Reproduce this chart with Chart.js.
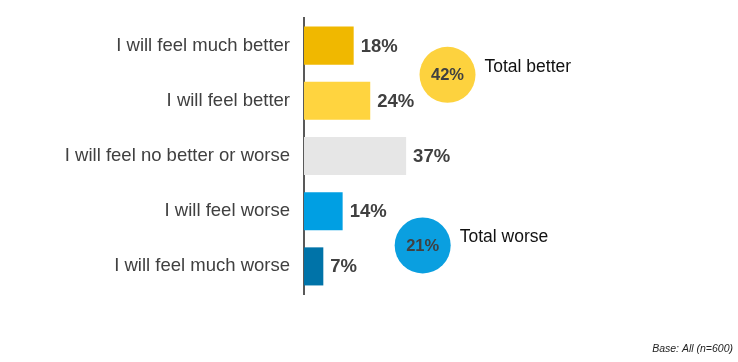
<!DOCTYPE html>
<html>
<head>
<meta charset="utf-8">
<script src="https://cdn.jsdelivr.net/npm/chart.js@4"></script>
<style>
  html, body { margin: 0; padding: 0; background: #fff; }
  #wrap { position: relative; width: 738px; height: 362px; }
</style>
</head>
<body>
<div id="wrap"><canvas id="chart"></canvas></div>
<script>
// data
const categories = ['I will feel much better', 'I will feel better', 'I will feel no better or worse', 'I will feel worse', 'I will feel much worse'];
const values = [18, 24, 37, 14, 7];
const barColors = ['#F0B800', '#FFD43F', '#E6E6E6', '#009FE3', '#0073A8'];
const totalLabels = ['Total better', 'Total worse'];
const totalValues = [42, 21];
const totalColors = ['#FDD23E', '#0A9FE0'];
// where the bubbles sit, in axis units (x = percent, y = category index)
const totalX = [52, 43];
const totalY = [0.53, 3.62];
const baseNote = 'Base: All (n=600)';

const textColor = '#404040';
const fontFam = '"Liberation Sans", Arial, sans-serif';

// value labels at bar ends
const barLabels = {
  id: 'barLabels',
  afterDatasetsDraw(chart) {
    const ctx = chart.ctx;
    const meta = chart.getDatasetMeta(0);
    ctx.save();
    ctx.font = 'bold 18.5px ' + fontFam;
    ctx.fillStyle = textColor;
    ctx.textBaseline = 'middle';
    ctx.textAlign = 'left';
    meta.data.forEach((bar, i) => {
      ctx.fillText(values[i] + '%', bar.x + 7, bar.y + 1);
    });
    ctx.restore();
  }
};

// total bubbles + base note
const totals = {
  id: 'totals',
  afterDraw(chart) {
    const ctx = chart.ctx;
    const xs = chart.scales.x, ys = chart.scales.y;
    ctx.save();
    totalValues.forEach((v, i) => {
      const cx = xs.getPixelForValue(totalX[i]);
      const cy = ys.getPixelForValue(totalY[i]);
      ctx.beginPath();
      ctx.arc(cx, cy, 28, 0, Math.PI * 2);
      ctx.fillStyle = totalColors[i];
      ctx.fill();
      ctx.font = 'bold 16.5px ' + fontFam;
      ctx.fillStyle = textColor;
      ctx.textAlign = 'center';
      ctx.textBaseline = 'middle';
      ctx.fillText(v + '%', cx, cy + 1);
      ctx.font = '17.5px ' + fontFam;
      ctx.fillStyle = '#111';
      ctx.textAlign = 'left';
      ctx.fillText(totalLabels[i], cx + 37, cy - 8);
    });
    ctx.font = 'italic 10.5px ' + fontFam;
    ctx.fillStyle = '#222';
    ctx.textAlign = 'right';
    ctx.textBaseline = 'middle';
    ctx.fillText(baseNote, chart.width - 5, chart.height - 13);
    ctx.restore();
  }
};

new Chart(document.getElementById('chart'), {
  type: 'bar',
  data: {
    labels: categories,
    datasets: [{
      data: values,
      backgroundColor: barColors,
      borderWidth: 0,
      barPercentage: 0.69,
      categoryPercentage: 1
    }]
  },
  options: {
    indexAxis: 'y',
    responsive: true,
    maintainAspectRatio: false,
    animation: false,
    layout: { padding: { left: 0, top: 18, right: 158, bottom: 68 } },
    plugins: { legend: { display: false }, tooltip: { enabled: false } },
    scales: {
      x: { display: false, min: 0, max: 100 },
      y: {
        grid: { display: false, drawTicks: false },
        border: { display: true, color: '#595959', width: 2 },
        ticks: {
          color: textColor,
          padding: 14,
          font: { family: fontFam, size: 18.5 }
        },
        afterFit(scale) {
          scale.width = 304;
          scale.paddingTop = 0;
          scale.paddingBottom = 0;
        }
      }
    }
  },
  plugins: [barLabels, totals]
});
</script>
</body>
</html>
